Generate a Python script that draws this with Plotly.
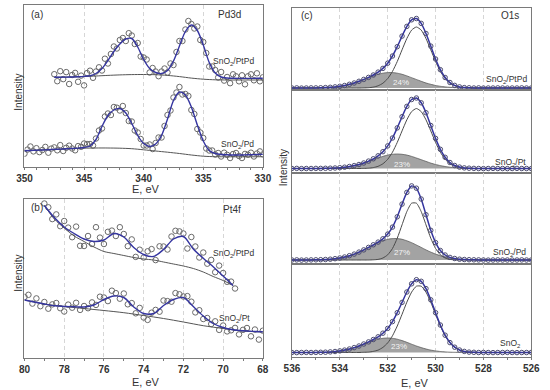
import numpy as np
import plotly.graph_objects as go

FONT = "Liberation Sans"
TXT = "#333333"
AXC = "#7a7a7a"
GRID = "#d6d6d6"
FITC = "#3535a0"
BGC = "#555555"
MKC = "#6a6a6a"

# ---------------- Panel (a) Pd3d ----------------
a_pd_E = np.round(np.arange(350, 329.99, -0.25), 2)
a_pd_data = [13.3, 17.4, 20.5, 15.6, 18.8, 14.9, 17.0, 20.1, 14.3, 18.4, 19.6, 16.7, 21.9, 16.0, 19.2,
             21.3, 18.5, 16.7, 20.9, 20.2, 23.5, 23.0, 23.0, 21.5, 28.5, 36.5, 38.5, 50.5, 53.5, 52.0,
             60.0, 59.3, 56.5, 61.0, 54.0, 46.0, 45.5, 36.5, 34.5, 28.0, 21.5, 21.5, 22.5, 18.0, 24.0,
             29.5, 29.5, 41.0, 52.0, 56.5, 69.5, 74.5, 80.0, 72.5, 73.0, 71.0, 57.0, 53.0, 38.0, 34.5,
             29.0, 18.5, 16.5, 16.5, 12.5, 14.0, 10.5, 14.3, 12.2, 9.0, 13.0, 14.0, 11.0, 9.0, 13.1,
             12.3, 14.3, 10.5, 13.5, 15.6, 12.6]
a_pd_fit_E = np.round(np.arange(350, 329.99, -0.5), 2)
a_pd_fit = [16.3, 16.5, 16.8, 17.0, 17.3, 17.6, 17.9, 18.2, 18.5, 18.9, 19.5, 21.0, 27.5, 40.5, 51.5,
            57.0, 58.5, 54.0, 43.5, 31.5, 23.5, 20.5, 23.0, 31.5, 48.0, 66.5, 75.0, 72.0, 60.0, 42.0,
            26.0, 16.5, 13.5, 12.5, 12.2, 12.0, 12.0, 12.1, 12.3, 12.5, 12.6]
a_pd_bg_E = list(range(350, 329, -1))
a_pd_bg = [16.3, 16.8, 17.3, 17.8, 18.3, 18.8, 19.0, 19.0, 18.8, 18.3, 17.2, 16.0, 14.8, 13.5, 12.0,
           10.8, 10.3, 10.2, 10.2, 10.2, 10.3]

a_ptpd_E = np.round(np.arange(347.5, 329.99, -0.25), 2)
a_ptpd_data = [92.8, 85.8, 95.8, 87.9, 94.9, 83.0, 92.0, 94.1, 85.2, 91.4, 81.6, 93.9, 96.3, 89.2, 95.5,
               99.7, 96.5, 108.3, 103.5, 113.0, 120.5, 118.5, 127.0, 129.0, 126.0, 133.8, 131.5, 123.0,
               124.0, 110.5, 109.5, 107.5, 94.5, 99.0, 95.5, 90.8, 95.5, 98.5, 94.5, 103.5, 102.0, 115.0,
               126.0, 126.0, 137.5, 146.0, 143.0, 138.5, 140.5, 127.0, 125.0, 114.0, 100.5, 100.5, 97.0,
               89.5, 95.0, 86.4, 90.0, 83.8, 92.7, 90.7, 85.7, 91.7, 82.7, 90.7, 92.7, 86.7, 93.7, 85.7, 89.7]
a_ptpd_fit_E = np.round(np.arange(347.5, 329.99, -0.5), 2)
a_ptpd_fit = [89.8, 89.8, 89.9, 90.0, 90.2, 90.6, 91.3, 93.5, 98.5, 106.5, 115.5, 123.0, 128.0, 128.5,
              120.0, 107.5, 98.5, 94.5, 93.5, 96.5, 106.0, 121.0, 135.5, 142.0, 136.5, 122.0, 104.5,
              94.0, 90.0, 89.0, 88.7, 88.6, 88.6, 88.6, 88.7, 88.7]
a_ptpd_bg_E = [347.5, 347, 346, 345, 344, 343, 342, 341, 340, 339, 338, 337, 336, 335, 334, 333, 332, 331, 330]
a_ptpd_bg = [89.8, 89.8, 90.0, 90.5, 91.0, 91.6, 92.1, 92.4, 92.5, 92.3, 91.6, 90.4, 88.9, 87.8, 87.2,
             87.0, 87.0, 87.0, 87.0]

# ---------------- Panel (b) Pt4f ----------------
b_ptpd_E = np.round(np.arange(79.0, 69.39, -0.2), 2)
b_ptpd_data = [154.5, 150.7, 138.9, 143.6, 131.8, 137.0, 130.4, 120.8, 131.4, 112.2, 112.0, 122.0, 114.0,
               130.8, 120.4, 114.0, 126.2, 127.4, 122.0, 130.8, 124.0, 111.8, 118.6, 101.1, 108.3, 100.5,
               106.7, 108.9, 97.9, 111.7, 111.5, 108.5, 121.5, 127.2, 126.6, 124.5, 109.5, 121.0, 111.5,
               100.5, 105.5, 94.3, 98.1, 85.8, 92.4, 85.0, 76.2, 76.4, 69.5]
b_ptpd_fit_E = np.round(np.arange(79.0, 69.49, -0.5), 2)
b_ptpd_fit = [152.5, 140.5, 131.0, 124.5, 119.0, 116.5, 118.0, 124.5, 121.0, 110.5, 103.5, 101.5, 108.5,
              119.0, 121.5, 109.0, 99.7, 91.3, 82.0, 72.5]
b_ptpd_bg = [152.5, 139.0, 130.0, 122.0, 116.5, 111.0, 106.5, 104.5, 102.5, 100.5, 99.0, 98.0, 96.0,
             94.0, 92.0, 89.5, 86.0, 81.5, 77.5, 72.5]

b_pt_E = np.round(np.arange(80.0, 67.99, -0.2), 2)
b_pt_data = [61.0, 63.2, 54.4, 59.6, 51.8, 56.0, 49.3, 53.6, 55.0, 49.8, 46.5, 53.4, 50.3, 55.2, 48.1,
             52.0, 49.8, 55.6, 53.1, 61.3, 60.5, 56.9, 67.3, 64.9, 59.3, 64.5, 53.7, 54.9, 44.7, 50.1,
             40.5, 38.1, 45.3, 48.1, 46.3, 57.5, 56.9, 56.3, 64.9, 63.7, 61.5, 61.9, 56.3, 45.6, 47.8,
             39.0, 40.0, 34.0, 36.7, 28.1, 32.5, 26.6, 27.7, 30.1, 23.6, 28.2, 30.0, 21.7, 28.5, 18.4, 27.3]
b_pt_fit_E = np.round(np.arange(80.0, 67.99, -0.5), 2)
b_pt_fit = [58.0, 56.0, 54.0, 52.2, 51.5, 51.3, 51.0, 53.0, 58.5, 62.0, 60.5, 51.0, 44.5, 44.5, 52.5,
            58.5, 60.5, 51.5, 42.0, 34.5, 30.5, 28.3, 27.2, 26.6, 26.3]
b_pt_bg_E = list(range(80, 67, -1))
b_pt_bg = [58.0, 54.0, 51.5, 49.5, 47.5, 45.3, 42.5, 39.5, 36.0, 32.3, 29.5, 27.0, 26.0]

# ---------------- Panel (c) O1s ----------------
c_E = np.round(np.arange(536.0, 525.99, -0.2), 2)
c_names = ["SnO<sub>2</sub>/PtPd", "SnO<sub>2</sub>/Pt", "SnO<sub>2</sub>/Pd", "SnO<sub>2</sub>"]
c_percent = ["24%", "23%", "27%", "23%"]
c_base = [2.0, 4.5, 4.0, 4.5]

c1_data = [2.0, 2.1, 1.9, 2.0, 2.1, 2.1, 2.2, 2.4, 2.7, 3.1, 3.7, 4.5, 5.7, 7.0, 8.7, 10.6, 12.6, 15.0,
           17.9, 21.6, 26.8, 34.0, 43.3, 53.9, 63.6, 70.2, 71.5, 66.6, 56.5, 43.9, 31.0, 20.3, 12.5, 7.5,
           4.6, 3.1, 2.4, 2.2, 2.0, 2.1, 1.9, 2.0, 2.0, 2.1, 2.0, 1.9, 2.0, 2.0, 2.1, 2.0, 2.0]
c1_main = [0.0] * 15 + [0.1, 0.3, 0.9, 2.2, 4.8, 9.4, 16.6, 26.5, 38.2, 49.5, 57.9, 61.0, 57.9, 49.5,
                        38.2, 26.5, 16.6, 9.4, 4.8, 2.2, 0.9, 0.3, 0.1] + [0.0] * 13
c1_sub = [0.0] * 4 + [0.1, 0.1, 0.2, 0.4, 0.7, 1.1, 1.7, 2.5, 3.7, 5.0, 6.7, 8.5, 10.3, 12.1, 13.7, 14.8,
                      15.4, 15.4, 14.8, 13.7, 12.1, 10.3, 8.5, 6.7, 5.0, 3.7, 2.5, 1.7, 1.1, 0.7, 0.4,
                      0.2, 0.1, 0.1] + [0.0] * 13

c2_data = [4.5, 4.6, 4.4, 4.5, 4.5, 4.6, 4.6, 4.7, 4.8, 5.0, 5.3, 5.8, 6.5, 7.4, 8.5, 10.0, 11.9, 14.2,
           17.2, 21.3, 27.1, 35.0, 45.1, 56.3, 66.6, 73.5, 75.0, 70.2, 60.3, 47.5, 34.6, 23.7, 15.7, 10.5,
           7.5, 5.9, 5.1, 4.8, 4.6, 4.5, 4.4, 4.5, 4.6, 4.5, 4.5, 4.4, 4.5, 4.6, 4.5, 4.5, 4.4]
c2_main = [0.0] * 15 + [0.1, 0.3, 0.9, 2.2, 4.7, 9.2, 16.3, 26.1, 37.6, 48.7, 56.9, 60.0, 56.9, 48.7,
                        37.6, 26.1, 16.3, 9.2, 4.7, 2.2, 0.9, 0.3, 0.1] + [0.0] * 13
c2_sub = [0.0] * 6 + [0.1, 0.2, 0.3, 0.5, 0.8, 1.3, 2.0, 2.9, 4.0, 5.4, 7.1, 8.8, 10.5, 12.1, 13.4, 14.2,
                      14.5, 14.2, 13.4, 12.1, 10.5, 8.8, 7.1, 5.4, 4.0, 2.9, 2.0, 1.3, 0.8, 0.5, 0.3,
                      0.2, 0.1] + [0.0] * 12

c3_data = [4.0, 4.1, 3.9, 4.0, 4.1, 4.2, 4.3, 4.5, 4.8, 5.3, 6.0, 7.0, 8.3, 9.9, 11.9, 14.1, 16.6, 19.2,
           21.9, 25.2, 29.9, 36.9, 47.2, 59.9, 71.6, 78.1, 75.8, 65.0, 49.3, 33.7, 21.4, 13.5, 9.0, 6.6,
           5.5, 4.8, 4.5, 4.3, 4.2, 4.1, 4.0, 3.9, 4.0, 4.1, 4.0, 4.0, 3.9, 4.0, 4.1, 4.0, 4.0]
c3_main = [0.0] * 17 + [0.2, 0.6, 2.0, 5.2, 11.5, 21.8, 35.2, 48.4, 56.8, 56.8, 48.4, 35.2, 21.8, 11.5,
                        5.2, 2.0, 0.6, 0.2] + [0.0] * 16
c3_sub = [0.0] * 4 + [0.1, 0.2, 0.3, 0.5, 0.8, 1.3, 2.0, 3.0, 4.3, 5.9, 7.9, 10.1, 12.6, 15.0, 17.3, 19.2,
                      20.7, 21.4, 21.4, 20.7, 19.2, 17.3, 15.0, 12.6, 10.1, 7.9, 5.9, 4.3, 3.0, 2.0,
                      1.3, 0.8, 0.5, 0.3, 0.2, 0.1] + [0.0] * 11

c4_data = [4.5, 4.4, 4.5, 4.6, 4.5, 4.6, 4.7, 4.8, 5.1, 5.5, 6.1, 6.9, 8.0, 9.4, 11.0, 13.0, 15.1, 17.5,
           20.2, 23.8, 28.6, 35.4, 44.3, 54.6, 65.0, 73.2, 77.3, 75.7, 68.4, 57.2, 44.3, 32.0, 21.8, 14.4,
           9.8, 7.0, 5.6, 4.9, 4.7, 4.5, 4.6, 4.5, 4.4, 4.5, 4.5, 4.6, 4.5, 4.4, 4.5, 4.5, 4.6]
c4_main = [0.0] * 15 + [0.2, 0.4, 1.1, 2.4, 5.1, 9.6, 16.7, 26.5, 38.2, 50.3, 60.4, 66.3, 66.3, 60.4,
                        50.3, 38.2, 26.5, 16.7, 9.6, 5.1, 2.4, 1.1, 0.4, 0.2] + [0.0] * 12
c4_sub = [0.0] * 5 + [0.1, 0.2, 0.3, 0.6, 1.0, 1.6, 2.4, 3.5, 4.9, 6.5, 8.3, 10.2, 11.9, 13.3, 14.2, 14.5,
                      14.2, 13.3, 11.9, 10.2, 8.3, 6.5, 4.9, 3.5, 2.4, 1.6, 1.0, 0.6, 0.3, 0.2,
                      0.1] + [0.0] * 15

c_data = [c1_data, c2_data, c3_data, c4_data]
c_main = [c1_main, c2_main, c3_main, c4_main]
c_sub = [c1_sub, c2_sub, c3_sub, c4_sub]

# ---------------- figure ----------------
W, H = 550, 390
fig = go.Figure()


def tr(x, y, ax, **kw):
    fig.add_trace(go.Scatter(x=x, y=y, xaxis="x" + ax, yaxis="y" + ax, showlegend=False,
                             hoverinfo="skip", **kw))


def pts(x, y, ax):
    tr(x, y, ax, mode="markers",
       marker=dict(symbol="circle-open", size=5.5, color=MKC, line=dict(width=1, color=MKC)))


def line(x, y, ax, color, width):
    tr(x, y, ax, mode="lines", line=dict(color=color, width=width, shape="spline", smoothing=0.8))


# panel a
pts(a_pd_E, a_pd_data, "")
pts(a_ptpd_E, a_ptpd_data, "")
line(a_pd_bg_E, a_pd_bg, "", BGC, 1)
line(a_ptpd_bg_E, a_ptpd_bg, "", BGC, 1)
line(a_pd_fit_E, a_pd_fit, "", FITC, 1.4)
line(a_ptpd_fit_E, a_ptpd_fit, "", FITC, 1.4)

# panel b
pts(b_pt_E, b_pt_data, "2")
pts(b_ptpd_E, b_ptpd_data, "2")
line(b_pt_bg_E, b_pt_bg, "2", BGC, 1)
line(b_ptpd_fit_E, b_ptpd_bg, "2", BGC, 1)
line(b_pt_fit_E, b_pt_fit, "2", FITC, 1.4)
line(b_ptpd_fit_E, b_ptpd_fit, "2", FITC, 1.4)

# panel c
for k in range(4):
    ax = str(3 + k)
    b = c_base[k]
    tr(c_E, [b] * len(c_E), ax, mode="lines", line=dict(width=0, color="rgba(0,0,0,0)"))
    tr(c_E, [b + v for v in c_sub[k]], ax, mode="lines", fill="tonexty", fillcolor="#a3a3a3",
       line=dict(color="#5a5a5a", width=0.8, shape="spline", smoothing=0.6))
    tr(c_E, [b + v for v in c_main[k]], ax, mode="lines",
       line=dict(color="#4a4a4a", width=1, shape="spline", smoothing=0.6))
    tr(c_E, c_data[k], ax, mode="lines+markers",
       line=dict(color=FITC, width=1.5, shape="spline", smoothing=0.6),
       marker=dict(symbol="circle-open", size=4.5, color="#4c4c70", line=dict(width=1, color="#4c4c70")))


def px_x(a, b):
    return [a / W, b / W]


def px_y(top, bottom):
    return [1 - bottom / H, 1 - top / H]


def xaxis(dom, rng, dtick, anchor, show=True):
    d = dict(domain=dom, range=rng, anchor=anchor, showline=True, linecolor=AXC, linewidth=1,
             mirror=True, showgrid=True, gridcolor=GRID, griddash="4px,3px", gridwidth=1, zeroline=False,
             tick0=rng[1], dtick=dtick, showticklabels=show,
             tickfont=dict(family=FONT, size=10, color=TXT, weight="bold"))
    if show:
        d.update(ticks="outside", ticklen=2, tickcolor=AXC,
                 minor=dict(dtick=1, ticks="outside", ticklen=2, tickcolor=AXC, showgrid=False))
    else:
        d.update(ticks="")
    return d


def yaxis(dom, rng, anchor):
    return dict(domain=dom, range=rng, anchor=anchor, showline=True, linecolor=AXC, linewidth=1,
                mirror=True, showgrid=False, zeroline=False, showticklabels=False, ticks="")


c_panels = [(8, 90, 82), (90, 173, 83), (173, 264, 91), (264, 357, 93)]

layout = dict(
    width=W, height=H, margin=dict(l=0, r=0, t=0, b=0),
    paper_bgcolor="white", plot_bgcolor="white",
    xaxis=xaxis(px_x(17, 263), [350, 330], 5, "y"),
    yaxis=yaxis(px_y(5, 167), [0, 162], "x"),
    xaxis2=xaxis(px_x(17, 263), [80, 68], 2, "y2"),
    yaxis2=yaxis(px_y(199, 358), [0, 159], "x2"),
)
for k, (t, bt, h) in enumerate(c_panels):
    n = str(3 + k)
    layout["xaxis" + n] = xaxis(px_x(293, 540), [536, 526], 2, "y" + n, show=(k == 3))
    layout["yaxis" + n] = yaxis(px_y(t, bt), [0, h], "x" + n)
fig.update_layout(**layout)


def ann(text, px, py, size=10, xanchor="center", color=TXT, angle=0):
    fig.add_annotation(text=text, x=px / W, y=1 - py / H, xref="paper", yref="paper", showarrow=False,
                       xanchor=xanchor, yanchor="middle", textangle=angle,
                       font=dict(family=FONT, size=size, color=color))


# panel (a) texts
ann("(a)", 22, 15, 10, "left")
ann("Pd3d", 243, 15, 10, "right")
ann("SnO<sub>2</sub>/PtPd", 256, 61, 8.5, "right")
ann("SnO<sub>2</sub>/Pd", 256, 144, 8.5, "right")
ann("Intensity", 10, 92, 10, angle=-90)
ann("E, eV", 142, 189, 11)

# panel (b) texts
ann("(b)", 22, 207, 10, "left")
ann("Pt4f", 243, 209, 10, "right")
ann("SnO<sub>2</sub>/PtPd", 256, 253, 8.5, "right")
ann("SnO<sub>2</sub>/Pt", 252, 318, 8.5, "right")
ann("Intensity", 10, 273, 10, angle=-90)
ann("E, eV", 142, 382, 11)

# panel (c) texts
ann("(c)", 300, 16, 10, "left")
ann("O1s", 529, 16, 10, "right")
ann("Intensity", 284, 168, 10, angle=-90)
ann("E, eV", 420, 383, 11)
c_lab_pos = [(538, 80), (537, 162), (537, 252), (530, 343)]
c_pct_pos = [(406, 82), (407, 164), (407, 252), (403, 346)]
for k in range(4):
    ann(c_names[k], c_lab_pos[k][0], c_lab_pos[k][1], 8.5, "right")
    ann(c_percent[k], c_pct_pos[k][0], c_pct_pos[k][1], 8, "center", color="#f4f4f4")

fig.write_html("out.html", config={"displayModeBar": False},
               post_script="document.body.style.margin='0';document.body.style.overflow='hidden';")
